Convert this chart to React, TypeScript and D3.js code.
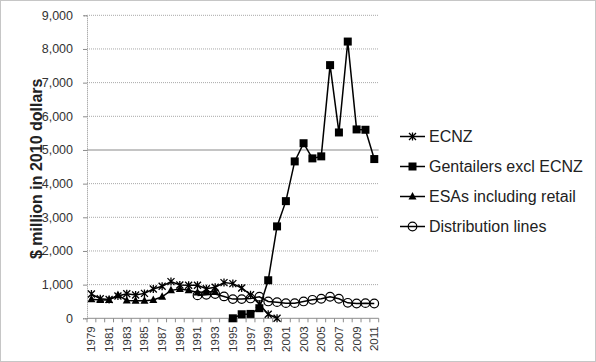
import React, { useEffect, useRef } from "react";
import * as d3 from "d3";

// years on the category axis
const years = d3.range(1979, 2012).map(String);

// $ million in 2010 dollars
const ecnzYears = d3.range(1979, 2001).map(String);
const ecnz = [720, 580, 560, 660, 730, 690, 740, 870, 950, 1090, 990, 980, 980, 880, 920, 1060, 1030, 900, 700, 420, 120, 0];

const gentYears = d3.range(1995, 2012).map(String);
const gentailers = [0, 120, 130, 300, 1130, 2730, 3480, 4660, 5200, 4750, 4810, 7520, 5520, 8220, 5610, 5600, 4730];

const esaYears = d3.range(1979, 1994).map(String);
const esas = [565, 545, 545, 690, 530, 520, 520, 545, 640, 830, 870, 830, 770, 790, 790];

const distYears = d3.range(1991, 2012).map(String);
const distribution = [680, 700, 720, 650, 570, 570, 590, 640, 500, 480, 450, 450, 500, 550, 580, 640, 580, 460, 440, 450, 440];

const yTicks = d3.range(0, 10000, 1000);

const seriesNames = ["ECNZ", "Gentailers excl ECNZ", "ESAs including retail", "Distribution lines"];

function App() {
  const ref = useRef<SVGSVGElement>(null);

  const W = 596, H = 362;
  const left = 87, right = 378.7, top = 15.3, bottom = 318.3;

  useEffect(() => {
    const svg = d3.select(ref.current);
    svg.selectAll("*").remove();

    const x = d3.scaleBand().domain(years).range([left, right]);
    const y = d3.scaleLinear().domain([0, 9000]).range([bottom, top]);
    const cx = (d: string) => x(d)! + x.bandwidth() / 2;

    // outer frame
    svg.append("rect")
      .attr("x", 0.5).attr("y", 0.5)
      .attr("width", W - 1).attr("height", H - 1)
      .attr("fill", "white")
      .attr("stroke", "#8c8c8c")
      .attr("stroke-dasharray", "1,1");

    // gridlines
    svg.append("g")
      .selectAll("line")
      .data(yTicks.filter(d => d > 0))
      .join("line")
      .attr("x1", left).attr("x2", right)
      .attr("y1", d => y(d)).attr("y2", d => y(d))
      .attr("stroke", d => d === 5000 ? "#c4c4c4" : "#a8a8a8")
      .attr("stroke-width", d => d === 5000 ? 2 : 1)
      .attr("stroke-dasharray", d => d === 5000 ? null : "1,1");

    // y axis
    const yAxis = svg.append("g")
      .attr("transform", `translate(${left},0)`)
      .call(d3.axisLeft(y).tickValues(yTicks).tickSize(4).tickFormat(d3.format(",")));
    yAxis.select(".domain").attr("stroke", "#8c8c8c").attr("stroke-dasharray", "1,1");
    yAxis.selectAll(".tick line").attr("stroke", "#8c8c8c");
    yAxis.selectAll(".tick text")
      .attr("font-family", "Liberation Sans, Arial, sans-serif")
      .attr("font-size", 12.5)
      .attr("fill", "#333")
      .attr("x", -14);

    // x axis
    svg.append("line")
      .attr("x1", left).attr("x2", right)
      .attr("y1", bottom).attr("y2", bottom)
      .attr("stroke", "#8c8c8c");
    svg.append("g")
      .selectAll("line")
      .data([...years.map(d => x(d)!), right])
      .join("line")
      .attr("x1", d => d).attr("x2", d => d)
      .attr("y1", bottom).attr("y2", bottom + 4)
      .attr("stroke", "#8c8c8c");
    svg.append("g")
      .selectAll("text")
      .data(years.filter((d, i) => i % 2 === 0))
      .join("text")
      .attr("transform", d => `translate(${cx(d) + 4},${bottom + 8}) rotate(-90)`)
      .attr("text-anchor", "end")
      .attr("font-family", "Liberation Sans, Arial, sans-serif")
      .attr("font-size", 11.5)
      .attr("fill", "#333")
      .text(d => d);

    // y label
    svg.append("text")
      .attr("transform", `translate(42,${(top + bottom) / 2 + 2}) rotate(-90)`)
      .attr("text-anchor", "middle")
      .attr("font-family", "Liberation Sans, Arial, sans-serif")
      .attr("font-size", 16)
      .attr("font-weight", "bold")
      .attr("fill", "#222")
      .text("$ million in 2010 dollars");

    const line = d3.line<[string, number]>()
      .x(d => cx(d[0]))
      .y(d => y(d[1]));

    const markers = [
      (g: any, px: number, py: number) => {
        // star: x with a vertical bar
        const s = 3.5;
        g.append("path")
          .attr("d", `M${px - s},${py - s}L${px + s},${py + s}M${px - s},${py + s}L${px + s},${py - s}M${px},${py - s - 0.5}L${px},${py + s + 0.5}`)
          .attr("stroke", "black").attr("stroke-width", 1.3).attr("fill", "none");
      },
      (g: any, px: number, py: number) => {
        g.append("rect")
          .attr("x", px - 4).attr("y", py - 4)
          .attr("width", 8).attr("height", 8)
          .attr("fill", "black");
      },
      (g: any, px: number, py: number) => {
        g.append("path")
          .attr("d", `M${px},${py - 4.5}L${px + 4},${py + 3}L${px - 4},${py + 3}Z`)
          .attr("fill", "black");
      },
      (g: any, px: number, py: number) => {
        g.append("circle")
          .attr("cx", px).attr("cy", py).attr("r", 4.3)
          .attr("fill", "none").attr("stroke", "black").attr("stroke-width", 1.2);
      },
    ];

    const series: [string, number][][] = [
      ecnzYears.map((d, i) => [d, ecnz[i]]),
      gentYears.map((d, i) => [d, gentailers[i]]),
      esaYears.map((d, i) => [d, esas[i]]),
      distYears.map((d, i) => [d, distribution[i]]),
    ];

    const plot = svg.append("g");
    // draw in reverse so ECNZ sits on top
    [3, 2, 1, 0].forEach(k => {
      const g = plot.append("g");
      g.append("path")
        .datum(series[k])
        .attr("d", line)
        .attr("fill", "none")
        .attr("stroke", "black")
        .attr("stroke-width", 1.5);
      series[k].forEach(d => markers[k](g, cx(d[0]), y(d[1])));
    });

    // legend
    const lg = svg.append("g");
    seriesNames.forEach((name, i) => {
      const ly = 136.5 + i * 30;
      lg.append("line")
        .attr("x1", 400).attr("x2", 425)
        .attr("y1", ly).attr("y2", ly)
        .attr("stroke", "black").attr("stroke-width", 1.5);
      markers[i](lg, 412.5, ly);
      lg.append("text")
        .attr("x", 429).attr("y", ly)
        .attr("dy", "0.35em")
        .attr("font-family", "Liberation Sans, Arial, sans-serif")
        .attr("font-size", 16)
        .attr("fill", "#222")
        .text(name);
    });
  }, []);

  return (
    <div style={{ position: "fixed", left: 0, top: 0 }}>
      <svg ref={ref} width={W} height={H} style={{ display: "block" }} />
    </div>
  );
}

export default App;
